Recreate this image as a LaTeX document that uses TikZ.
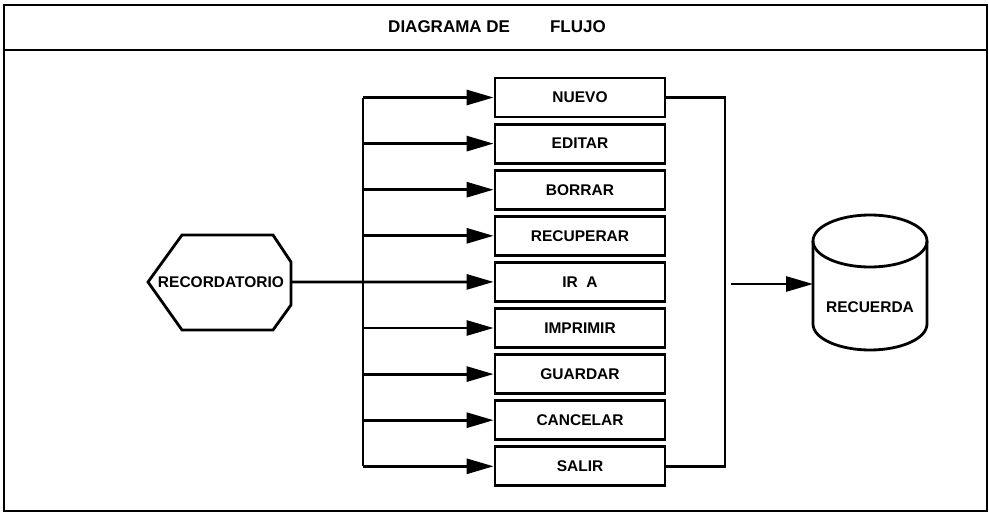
\documentclass[tikz,border=0pt]{standalone}
\usepackage{fontspec}
\setmainfont{Liberation Sans}
\usetikzlibrary{arrows.meta}
\tikzset{
  ln/.style={line width=2.8pt},
  arr/.style={ln,-{Triangle[length=27pt,width=15pt]}},
  opt/.style={draw,line width=2.8pt,minimum width=170pt,minimum height=39pt,inner sep=0pt,
    font=\bfseries\fontsize{15.5}{17}\selectfont},
  lbl/.style={inner sep=0pt,font=\bfseries\fontsize{15.5}{17}\selectfont}
}
\begin{document}
\begin{tikzpicture}[x=1pt,y=-1pt]
\useasboundingbox (0,0) rectangle (989,514);
% frame
\draw[ln] (4,5) rectangle (987,511);
\draw[ln] (4,50) -- (987,50);
\node[lbl,font=\bfseries\fontsize{17}{20}\selectfont] (title) at (497,27) {DIAGRAMA DE\hspace*{40pt}FLUJO};
% option boxes
\foreach \n/\t [count=\i from 0] in {nuevo/NUEVO,editar/EDITAR,borrar/BORRAR,recuperar/RECUPERAR,ira/IR\ \ A,imprimir/IMPRIMIR,guardar/GUARDAR,cancelar/CANCELAR,salir/SALIR}{
  \node[opt] (\n) at (580,97.5+46.1*\i) {\t};
}
% hexagon (display)
\draw[ln,line join=miter] (148,282) -- (182,235) -- (273,235) -- (291,262) -- (291,305) -- (273,330) -- (182,330) -- cycle;
\node[lbl] (rec) at (221,282) {RECORDATORIO};
\coordinate (hexE) at (291,282);
% bus
\coordinate (busT) at (363,97.5);
\coordinate (busB) at (363,466.3);
\draw[ln] (busT) -- (busB);
\draw[arr] (hexE) -- (ira.west);
\foreach \n in {nuevo,editar,borrar,recuperar,imprimir,guardar,cancelar,salir}{
  \draw[arr] (busT |- \n.west) -- (\n.west);
}
% right collector
\coordinate (colX) at (725,0);
\draw[ln] (nuevo.east) -- (colX |- nuevo.east) -- (colX |- salir.east) -- (salir.east);
% cylinder
\draw[ln] (813,241) -- (813,324) arc[start angle=180,end angle=360,x radius=57,y radius=-26] -- (927,241);
\draw[ln] (870,241) ellipse[x radius=57,y radius=26];
\node[lbl] (recuerda) at (870,307) {RECUERDA};
\coordinate (cylW) at (813,284);
\coordinate (collOut) at (731,284);
\draw[arr] (collOut) -- (cylW);
\end{tikzpicture}
\end{document}
